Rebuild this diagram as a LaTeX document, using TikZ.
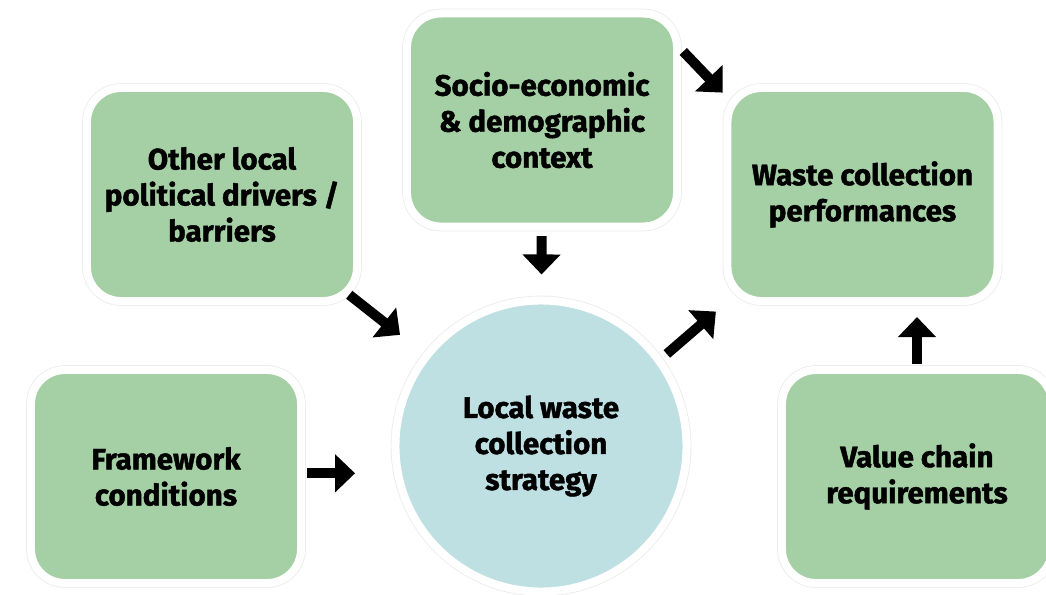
\documentclass[tikz,border=0pt]{standalone}
\usepackage{fontspec}
\setmainfont{Fira Sans}[BoldFeatures={FakeBold=1.5}]
\usetikzlibrary{arrows.meta}

\definecolor{boxgreen}{HTML}{A5CFA5}
\definecolor{circleblue}{HTML}{BFE0E3}

\begin{document}
\begin{tikzpicture}[
    x=0.025cm, y=-0.025cm,
    factor/.style={rectangle, fill=boxgreen, draw=white, line width=0.2cm, rounded corners=0.85cm,
        minimum width=6.75cm, minimum height=5.325cm, inner sep=0pt, align=center,
        font=\fontsize{21}{25.6}\selectfont\bfseries,
        preaction={draw=black!8, line width=0.24cm}},
    strategy/.style={circle, fill=circleblue, draw=white, line width=0.2cm, minimum size=7.275cm,
        inner sep=0pt, align=center, font=\fontsize{21}{25.6}\selectfont\bfseries,
        preaction={draw=black!8, line width=0.24cm}},
    arrow/.style={line width=0.25cm, -{Triangle[length=0.5cm, width=0.925cm]}}
]
    \useasboundingbox (0,0) rectangle (1046,594);

    % Influencing factors
    \node [factor] (frame) at (166,476.5) {Framework\\conditions};
    \node [factor] (other) at (222,194.5) {Other local\\political drivers /\\barriers};
    \node [factor] (socio) at (542,120) {Socio-economic\\\& demographic\\context};
    \node [factor] (perf) at (862.5,194.5) {Waste collection\\performances};
    \node [factor] (value) at (917,476.5) {Value chain\\requirements};

    % Central strategy
    \node [strategy] (strat) at (541,446) {Local waste\\collection\\strategy};

    % Connections
    \draw [arrow, shorten <=0.05cm, shorten >=0.91cm] ([yshift=0.08cm]frame.east) -- ([yshift=0.08cm]frame.east -| strat.west);
    \draw [arrow, shorten <=-0.375cm, shorten >=0.75cm] (other) -- (strat);
    \draw [arrow, shorten <=0.14cm, shorten >=0.55cm] (socio) -- (strat);
    \draw [arrow, shorten <=0.08cm, shorten >=0.03cm] (socio.27) -- (perf.144);
    \draw [arrow, shorten <=0.16cm, shorten >=0.25cm] (strat.36) -- (perf.south west);
    \draw [arrow, shorten <=0.05cm, shorten >=0.3cm] (value.north) -- (value.north |- perf.south);
\end{tikzpicture}
\end{document}
